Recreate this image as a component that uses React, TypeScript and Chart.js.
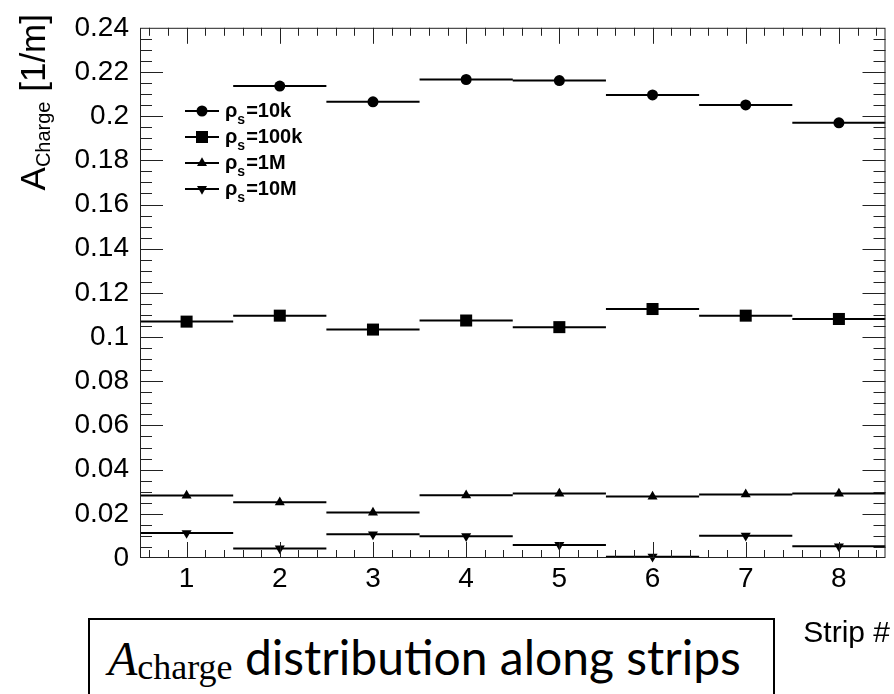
import React, { useEffect, useRef } from 'react';
import { Chart, registerables } from 'chart.js';

Chart.register(...registerables);

// ---------------- data ----------------
const STRIPS = [1, 2, 3, 4, 5, 6, 7, 8];
const X_TICKS = [1, 2, 3, 4, 5, 6, 7, 8];
const Y_TICKS = [0, 0.02, 0.04, 0.06, 0.08, 0.1, 0.12, 0.14, 0.16, 0.18, 0.2, 0.22, 0.24];
const RHO_10K: (number | null)[] = [null, 0.2136, 0.2065, 0.2166, 0.2161, 0.2096, 0.2051, 0.197];
const RHO_100K: (number | null)[] = [0.107, 0.1097, 0.1034, 0.1075, 0.1045, 0.1127, 0.1097, 0.1082];
const RHO_1M: (number | null)[] = [0.0283, 0.0252, 0.0206, 0.0284, 0.0292, 0.0278, 0.0288, 0.0292];
const RHO_10M: (number | null)[] = [0.0113, 0.0043, 0.0107, 0.0099, 0.0059, 0.0006, 0.0101, 0.0053];
const SERIES_NAMES = ['10k', '100k', '1M', '10M'];
const X_MIN = 0.5;
const X_MAX = 8.5;
const Y_MIN = 0;
const Y_MAX = 0.24;

// ---------------- style ----------------
const MARKERS = [
  { style: 'circle', radius: 5.5, rotation: 0 },
  { style: 'rect', radius: 8.5, rotation: 0 },
  { style: 'triangle', radius: 5.8, rotation: 0 },
  { style: 'triangle', radius: 5.8, rotation: 180 },
];
const SANS = '"Liberation Sans", Arial, Helvetica, sans-serif';

function drawMarker(ctx: CanvasRenderingContext2D, style: string, x: number, y: number, r: number, rot: number) {
  ctx.save();
  ctx.translate(x, y);
  ctx.rotate((rot * Math.PI) / 180);
  ctx.beginPath();
  if (style === 'circle') {
    ctx.arc(0, 0, r, 0, Math.PI * 2);
  } else if (style === 'rect') {
    const s = Math.SQRT1_2 * r;
    ctx.rect(-s, -s, 2 * s, 2 * s);
  } else {
    ctx.moveTo(0, -r);
    ctx.lineTo(r * Math.sin(Math.PI / 3), r * 0.5);
    ctx.lineTo(-r * Math.sin(Math.PI / 3), r * 0.5);
    ctx.closePath();
  }
  ctx.fillStyle = '#000';
  ctx.fill();
  ctx.restore();
}

const framePlugin = {
  id: 'rootFrame',
  afterDatasetsDraw(chart: any) {
    const { ctx, chartArea } = chart;
    const { left, right, top, bottom } = chartArea;
    const xs = chart.scales.x;
    const ys = chart.scales.y;
    ctx.save();
    ctx.strokeStyle = '#222';
    ctx.lineWidth = 1;
    ctx.strokeRect(left + 0.5, top + 0.5, right - left - 1, bottom - top - 1);
    ctx.beginPath();
    for (let k = 3; k <= 42; k++) {
      const v = k * 0.2;
      const px = Math.round(xs.getPixelForValue(v)) + 0.5;
      const len = k % 5 === 0 ? 16 : 8;
      ctx.moveTo(px, bottom);
      ctx.lineTo(px, bottom - len);
      ctx.moveTo(px, top);
      ctx.lineTo(px, top + len);
    }
    for (let k = 1; k <= 47; k++) {
      const v = k * 0.005;
      const py = Math.round(ys.getPixelForValue(v)) + 0.5;
      const len = k % 4 === 0 ? 23 : 12;
      ctx.moveTo(left, py);
      ctx.lineTo(left + len, py);
      ctx.moveTo(right, py);
      ctx.lineTo(right - len, py);
    }
    ctx.stroke();
    ctx.restore();
  },
  afterDraw(chart: any) {
    const { ctx } = chart;
    ctx.save();
    ctx.fillStyle = '#000';
    ctx.textBaseline = 'alphabetic';

    // legend
    const rowsY = [111, 137, 163, 189];
    SERIES_NAMES.forEach((name, i) => {
      const yy = rowsY[i];
      ctx.strokeStyle = '#000';
      ctx.lineWidth = 2;
      ctx.beginPath();
      ctx.moveTo(185, yy);
      ctx.lineTo(219, yy);
      ctx.stroke();
      const m = MARKERS[i];
      drawMarker(ctx, m.style, 202, yy, m.radius, m.rotation);
      ctx.font = `bold 20px ${SANS}`;
      let x = 225;
      const base = yy + 6;
      ctx.fillText('\u03C1', x, base);
      x += ctx.measureText('\u03C1').width;
      ctx.font = `bold 14px ${SANS}`;
      ctx.fillText('s', x, base + 7);
      x += ctx.measureText('s').width + 1;
      ctx.font = `bold 20px ${SANS}`;
      ctx.fillText('=' + name, x, base);
    });

    // x title
    ctx.font = `30px ${SANS}`;
    ctx.textAlign = 'right';
    ctx.fillText('Strip #', 890, 642);

    // y title (rotated)
    ctx.save();
    ctx.translate(45, 14);
    ctx.rotate(-Math.PI / 2);
    ctx.textAlign = 'left';
    ctx.font = `35px ${SANS}`;
    const wA = ctx.measureText('A').width;
    const wTail = ctx.measureText(' [1/m]').width;
    ctx.font = `20px ${SANS}`;
    const wSub = ctx.measureText('Charge').width;
    const total = wA + wSub + wTail;
    let tx = -total;
    ctx.font = `35px ${SANS}`;
    ctx.fillText('A', tx, 0);
    tx += wA;
    ctx.font = `20px ${SANS}`;
    ctx.fillText('Charge', tx, 5);
    tx += wSub;
    ctx.font = `35px ${SANS}`;
    ctx.fillText(' [1/m]', tx, 0);
    ctx.restore();

    ctx.restore();
  },
};

function stepPoints(vals: (number | null)[]) {
  const pts: { x: number; y: number | null }[] = [];
  STRIPS.forEach((s, i) => {
    const v = vals[i];
    if (v === null) return;
    pts.push({ x: s - 0.5, y: v });
    pts.push({ x: s + 0.5, y: v });
    pts.push({ x: s + 0.5, y: null });
  });
  return pts;
}

function markerPoints(vals: (number | null)[]) {
  return STRIPS.map((s, i) => ({ x: s, y: vals[i] })).filter((p) => p.y !== null);
}

export default function App() {
  const ref = useRef<HTMLCanvasElement | null>(null);

  useEffect(() => {
    if (!ref.current) return;
    const seriesVals = [RHO_10K, RHO_100K, RHO_1M, RHO_10M];
    const datasets: any[] = [];
    seriesVals.forEach((vals, i) => {
      datasets.push({
        type: 'line',
        label: 'rho_s=' + SERIES_NAMES[i] + ' bins',
        data: stepPoints(vals),
        borderColor: '#000',
        borderWidth: 2,
        pointRadius: 0,
        spanGaps: false,
        fill: false,
      });
    });
    seriesVals.forEach((vals, i) => {
      const m = MARKERS[i];
      datasets.push({
        type: 'line',
        label: 'rho_s=' + SERIES_NAMES[i],
        data: markerPoints(vals),
        showLine: false,
        pointStyle: m.style,
        pointRadius: m.radius,
        pointRotation: m.rotation,
        pointBackgroundColor: '#000',
        pointBorderColor: '#000',
        pointBorderWidth: 0,
        clip: false,
      });
    });

    const chart = new Chart(ref.current, {
      type: 'line',
      data: { datasets },
      options: {
        animation: false,
        responsive: false,
        events: [],
        layout: { padding: { left: 0, top: 19, right: 3, bottom: 0 } },
        plugins: { legend: { display: false }, tooltip: { enabled: false }, title: { display: false } },
        scales: {
          x: {
            type: 'linear',
            min: X_MIN,
            max: X_MAX,
            grid: { display: false, drawTicks: false },
            border: { display: false },
            afterBuildTicks: (scale: any) => {
              scale.ticks = X_TICKS.map((v) => ({ value: v }));
            },
            afterFit: (scale: any) => {
              scale.height = 136;
            },
            ticks: {
              color: '#000',
              font: { family: SANS, size: 28 },
              padding: 4,
              maxRotation: 0,
              autoSkip: false,
              callback: (v: any) => String(v),
            },
          },
          y: {
            type: 'linear',
            min: Y_MIN,
            max: Y_MAX,
            grid: { display: false, drawTicks: false },
            border: { display: false },
            afterBuildTicks: (scale: any) => {
              scale.ticks = Y_TICKS.map((v) => ({ value: v }));
            },
            afterFit: (scale: any) => {
              scale.width = 140;
            },
            ticks: {
              color: '#000',
              font: { family: SANS, size: 28 },
              padding: 11,
              autoSkip: false,
              callback: (v: any) => String(Number(Number(v).toFixed(3))),
            },
          },
        },
      },
      plugins: [framePlugin],
    } as any);
    return () => chart.destroy();
  }, []);

  return (
    <div style={{ position: 'fixed', left: 0, top: 0, width: 894, height: 694, background: '#fff', overflow: 'hidden' }}>
      <canvas ref={ref} width={894} height={694} style={{ display: 'block' }} />
      <div
        style={{
          position: 'absolute',
          left: 88,
          top: 618,
          width: 687,
          height: 110,
          border: '2px solid #000',
          boxSizing: 'border-box',
          background: '#fff',
        }}
      >
        <div
          style={{
            position: 'absolute',
            left: 18,
            top: 13,
            whiteSpace: 'nowrap',
            fontSize: 48,
            lineHeight: '48px',
            color: '#000',
          }}
        >
          <span style={{ fontFamily: '"Liberation Serif", serif', fontStyle: 'italic' }}>A</span>
          <span style={{ fontFamily: '"Liberation Serif", serif', fontSize: 36, position: 'relative', top: 4 }}>charge</span>
          <span style={{ fontFamily: 'Lato, "Open Sans", sans-serif' }}> distribution along strips</span>
        </div>
      </div>
    </div>
  );
}
